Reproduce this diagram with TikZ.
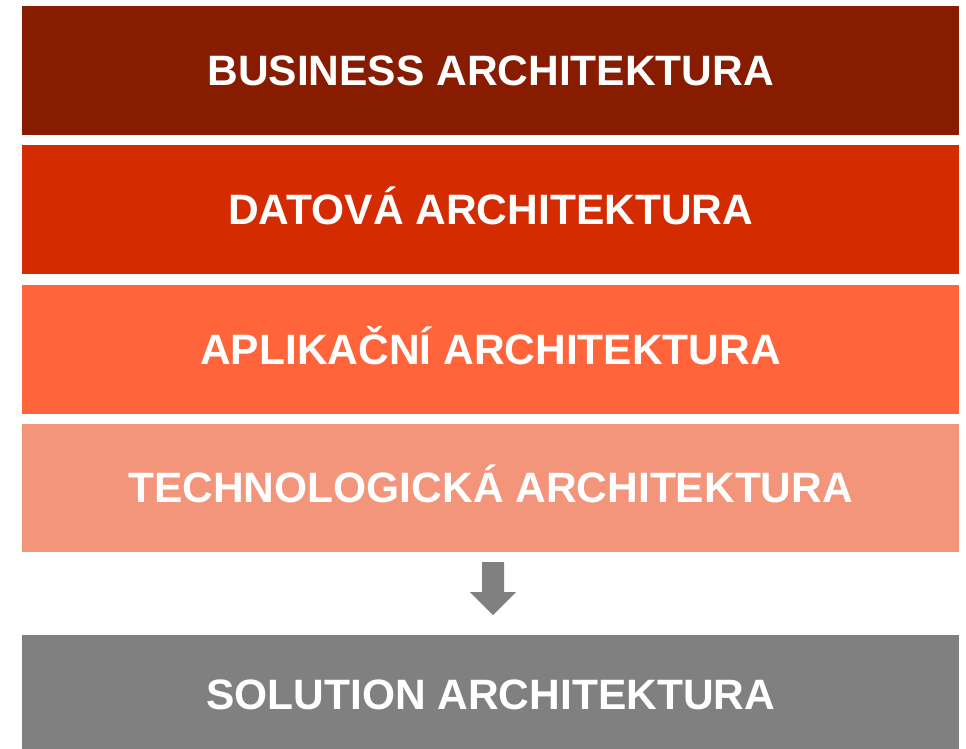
\documentclass[tikz,border=0pt]{standalone}
\usepackage{fontspec}
\setmainfont{Liberation Sans}
\definecolor{bizred}{HTML}{881C00}
\definecolor{datred}{HTML}{D42B00}
\definecolor{appred}{HTML}{FF643A}
\definecolor{techred}{HTML}{F2957A}
\definecolor{solgray}{HTML}{808080}
\tikzset{layer/.style={anchor=north west, minimum width=937pt, minimum height=129pt,
    inner sep=0pt, text=white, text height=29pt, text depth=0pt,
    font=\fontsize{42.5}{50}\selectfont\bfseries}}
\begin{document}
\begin{tikzpicture}[x=1pt,y=-1pt]
  \useasboundingbox (0,0) rectangle (966,748);
  \node[layer, fill=bizred]  (business) at (22,6)   {BUSINESS ARCHITEKTURA};
  \node[layer, fill=datred]  (data)     at (22,145) {DATOVÁ ARCHITEKTURA};
  \node[layer, fill=appred]  (app)      at (22,285) {APLIKAČNÍ ARCHITEKTURA};
  \node[layer, fill=techred, minimum height=128pt] (tech) at (22,424)
    {TECHNOLOGICKÁ ARCHITEKTURA};
  \node[layer, fill=solgray, minimum height=120pt] (solution) at (22,635)
    {SOLUTION ARCHITEKTURA};
  % arrow between the layers
  \coordinate (tip) at (493,615);
  \fill[solgray] (tip) -- ++(23,-23) -- ++(-12,0) -- ++(0,-30) -- ++(-22,0)
    -- ++(0,30) -- ++(-12,0) -- cycle;
\end{tikzpicture}
\end{document}
